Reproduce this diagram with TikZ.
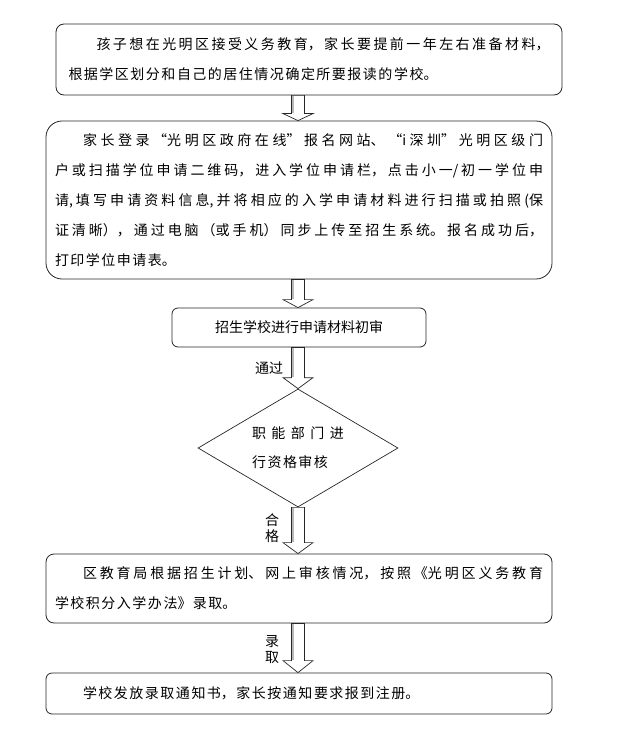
\documentclass[tikz,border=0pt]{standalone}
\usepackage{fontspec}
\setmainfont{Noto Sans CJK SC}
\usetikzlibrary{shapes.geometric,calc}
\XeTeXlinebreaklocale "zh"
\XeTeXlinebreakskip=1.5pt plus 5pt
\hbadness=10000
\setlength\parindent{0pt}

\tikzset{
  stepbox/.style={draw=black!85, line width=0.8pt, inner sep=0pt, align=justify,
    font=\fontsize{14pt}{30pt}\selectfont},
  checkbox/.style={draw=black!85, line width=0.7pt, shape=diamond, inner sep=0pt,
    aspect=1.7, align=justify, font=\fontsize{14pt}{29pt}\selectfont},
  flowlabel/.style={inner sep=0pt, align=center, font=\fontsize{14pt}{16pt}\selectfont},
  arrowline/.style={draw=black!85, line width=0.7pt, fill=white}
}

\newcommand\flowarrow[3]{%
  \draw[arrowline] let \p1=(#1.south), \p2=(#2.north), \p3=(spine) in
    (\x3-6.5pt,\y1) -- (\x3-6.5pt,\y2+#3) -- (\x3-15pt,\y2+#3) -- (\x3,\y2)
    -- (\x3+15pt,\y2+#3) -- (\x3+6.5pt,\y2+#3) -- (\x3+6.5pt,\y1) -- cycle;
  \draw[gray!55, line width=1.2pt] let \p1=(#1.south), \p2=(#2.north), \p3=(spine) in
    (\x3-5pt,\y1-1pt) -- (\x3-5pt,\y2+#3+0.5pt);
}

\begin{document}
\begin{tikzpicture}[x=1pt, y=-1pt]
  \useasboundingbox (0,0) rectangle (618,730);
  \coordinate (spine) at (298,0);

  \node[stepbox, rounded corners=8pt, minimum width=506pt, minimum height=71pt, text width=481pt]
    (choose) at (309,59.5) {\hspace*{2em}孩子想在光明区接受义务教育，家长要提前一年左右准备材料，\linebreak 根据学区划分和自己的居住情况确定所要报读的学校。};
  \node[stepbox, rounded corners=16pt, minimum width=506pt, minimum height=158pt, text width=488pt]
    (register) at (299,200) {\hspace*{2em}家长登录“光明区政府在线”报名网站、“i深圳”光明区级门\linebreak 户或扫描学位申请二维码，进入学位申请栏，点击小一/初一学位申\linebreak 请,填写申请资料信息,并将相应的入学申请材料进行扫描或拍照(保\linebreak 证清晰），通过电脑（或手机）同步上传至招生系统。报名成功后，\linebreak 打印学位申请表。};
  \node[stepbox, rounded corners=6pt, minimum width=254pt, minimum height=39pt, align=center]
    (precheck) at (299,327.5) {招生学校进行申请材料初审};
  \node[checkbox, minimum width=200pt, minimum height=118pt, text width=92pt]
    (review) at (298,448) {职能部门进\linebreak 行资格审核};
  \node[stepbox, rounded corners=8pt, minimum width=506pt, minimum height=69pt, text width=488pt]
    (admit) at (299,588.5) {\hspace*{2em}区教育局根据招生计划、网上审核情况，按照《光明区义务教育\linebreak 学校积分入学办法》录取。};
  \node[stepbox, rounded corners=6pt, minimum width=506pt, minimum height=41pt, text width=488pt]
    (notice) at (299,693.5) {\hspace*{2em}学校发放录取通知书，家长按通知要求报到注册。};

  \flowarrow{choose}{register}{7pt}
  \flowarrow{register}{precheck}{8pt}
  \flowarrow{precheck}{review}{11pt}
  \flowarrow{review}{admit}{11pt}
  \flowarrow{admit}{notice}{12pt}

  \node[flowlabel] (passed) at (269,368) {通过};
  \node[flowlabel] (qualified) at (272,528) {合\\格};
  \node[flowlabel] (enrolled) at (272,650) {录\\取};
\end{tikzpicture}
\end{document}
